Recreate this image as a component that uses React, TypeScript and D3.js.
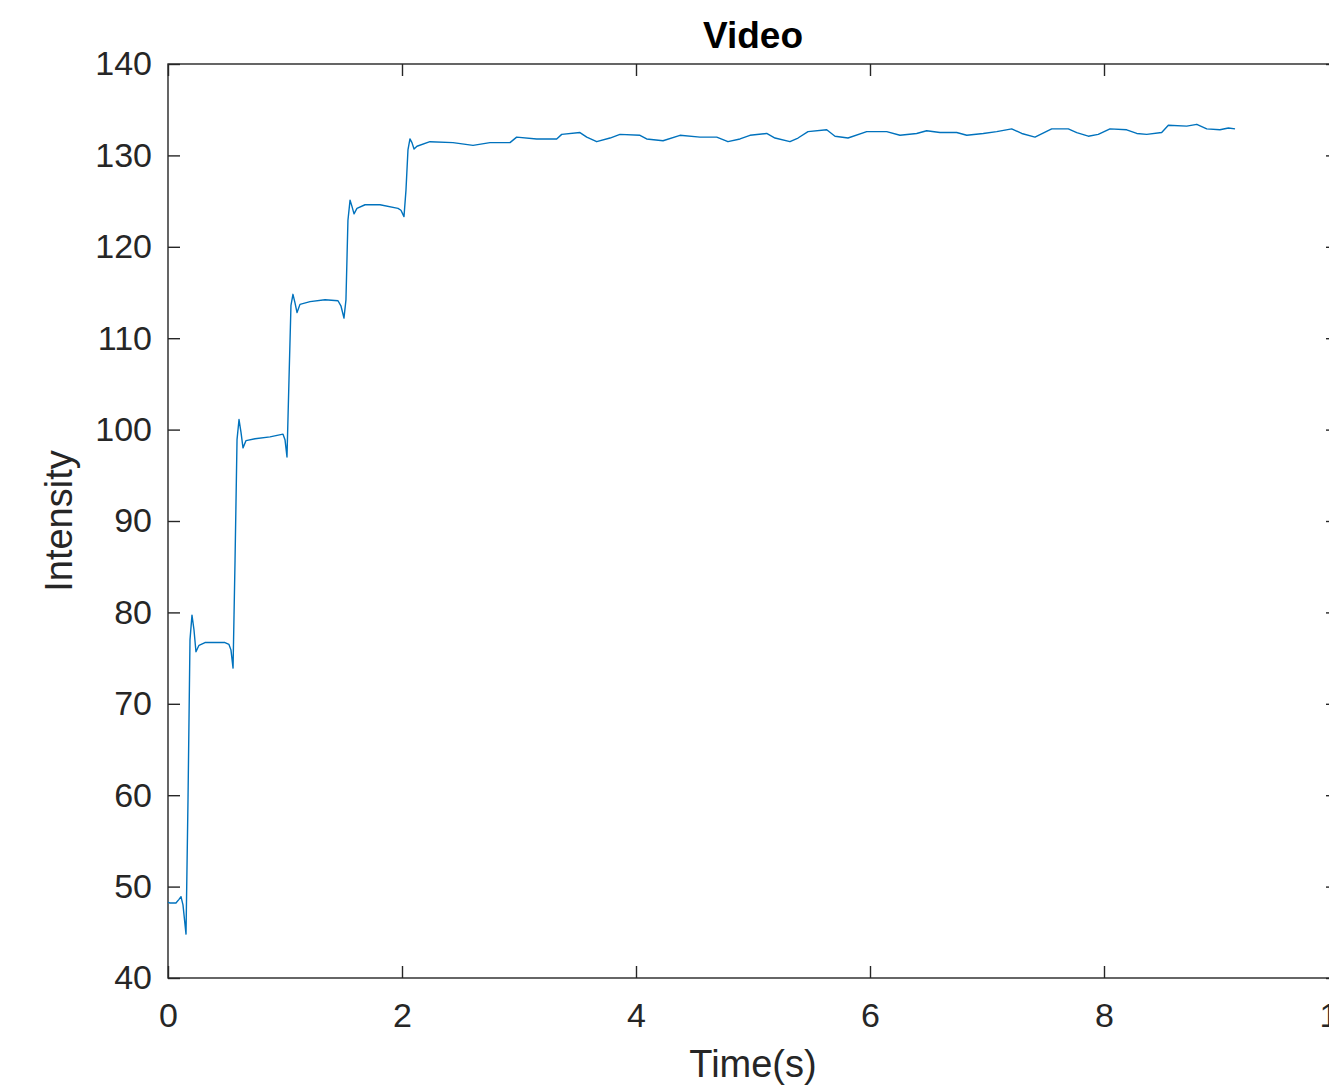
import * as d3 from 'd3';
import { useEffect, useRef } from 'react';

// time (s) and mean intensity
const times = [
  0, 0.017, 0.068, 0.094, 0.111, 0.128, 0.154, 0.171, 0.188, 0.205, 0.222, 0.239, 0.265, 0.316, 0.402,
  0.487, 0.521, 0.538, 0.556, 0.573, 0.59, 0.607, 0.624, 0.641, 0.667, 0.744, 0.872, 0.983, 1.0, 1.017,
  1.034, 1.051, 1.068, 1.085, 1.103, 1.128, 1.214, 1.342, 1.453, 1.479, 1.504, 1.521, 1.538, 1.556,
  1.573, 1.59, 1.615, 1.684, 1.812, 1.966, 1.991, 2.017, 2.034, 2.051, 2.068, 2.085, 2.103, 2.128,
  2.239, 2.436, 2.607, 2.752, 2.923, 2.98, 3.151, 3.322, 3.365, 3.521, 3.579, 3.664, 3.778, 3.863,
  4.034, 4.091, 4.231, 4.376, 4.547, 4.69, 4.786, 4.889, 4.974, 5.117, 5.188, 5.316, 5.385, 5.47,
  5.63, 5.701, 5.812, 5.972, 6.143, 6.256, 6.399, 6.484, 6.598, 6.741, 6.827, 6.968, 7.083, 7.211,
  7.297, 7.41, 7.553, 7.695, 7.767, 7.866, 7.951, 8.051, 8.194, 8.28, 8.365, 8.493, 8.55, 8.707,
  8.793, 8.878, 8.991, 9.063, 9.12,
];

const intensity = [
  48.3, 48.2, 48.2, 48.6, 48.9, 48.0, 44.8, 59.5, 77.0, 79.7, 78.1, 75.7, 76.4, 76.7, 76.7,
  76.7, 76.5, 75.9, 73.9, 85.7, 98.9, 101.1, 99.7, 98.0, 98.8, 99.0, 99.2, 99.5, 98.9, 97.0,
  105.4, 113.6, 114.8, 113.9, 112.8, 113.7, 114.0, 114.2, 114.1, 113.5, 112.2, 114.2, 122.9, 125.1,
  124.4, 123.6, 124.2, 124.6, 124.6, 124.2, 124.0, 123.3, 126.2, 130.6, 131.8, 131.4, 130.7, 131.0,
  131.5, 131.4, 131.1, 131.4, 131.4, 132.0, 131.8, 131.8, 132.3, 132.5, 132.0, 131.5, 131.9, 132.3,
  132.2, 131.8, 131.6, 132.2, 132.0, 132.0, 131.5, 131.8, 132.2, 132.4, 131.9, 131.5, 131.9, 132.6,
  132.8, 132.1, 131.9, 132.6, 132.6, 132.2, 132.4, 132.7, 132.5, 132.5, 132.2, 132.4, 132.6, 132.9,
  132.4, 132.0, 132.9, 132.9, 132.5, 132.1, 132.3, 132.9, 132.8, 132.4, 132.3, 132.5, 133.3, 133.2,
  133.4, 132.9, 132.8, 133.0, 132.9,
];

const xTicks = [0, 2, 4, 6, 8, 10];
const yTicks = [40, 50, 60, 70, 80, 90, 100, 110, 120, 130, 140];

const WIDTH = 1329;
const HEIGHT = 1088;
const FONT = '"Liberation Sans", Arial, Helvetica, sans-serif';
const AXIS_COLOR = '#262626';

export default function App() {
  const ref = useRef<SVGSVGElement | null>(null);

  useEffect(() => {
    const svg = d3.select(ref.current);
    svg.selectAll('*').remove();

    const left = 168;
    const right = 1338; // x = 10 lies just past the picture's right edge
    const top = 64;
    const bottom = 978;

    const x = d3.scaleLinear().domain([0, 10]).range([left, right]);
    const y = d3.scaleLinear().domain([40, 140]).range([bottom, top]);

    const series = times.map((t, i) => ({ t, v: intensity[i] }));

    // axis box
    svg.append('rect')
      .attr('x', left)
      .attr('y', top)
      .attr('width', right - left)
      .attr('height', bottom - top)
      .attr('fill', '#fff')
      .attr('stroke', AXIS_COLOR)
      .attr('stroke-width', 1.4);

    const tickLen = 12;

    const styleAxis = (g: d3.Selection<SVGGElement, unknown, null, undefined>) => {
      g.select('.domain').remove();
      g.selectAll('line').attr('stroke', AXIS_COLOR).attr('stroke-width', 1.4);
      g.selectAll('text')
        .attr('fill', AXIS_COLOR)
        .style('font-family', FONT)
        .style('font-size', '34px');
    };

    svg.append('g')
      .attr('transform', `translate(0,${bottom})`)
      .call(d3.axisBottom(x).tickValues(xTicks).tickSizeInner(-tickLen).tickSizeOuter(0).tickPadding(25))
      .call(styleAxis);

    svg.append('g')
      .attr('transform', `translate(${left},0)`)
      .call(d3.axisLeft(y).tickValues(yTicks).tickSizeInner(-tickLen).tickSizeOuter(0).tickPadding(16))
      .call(styleAxis);

    // mirrored ticks on top and right (box on)
    svg.append('g')
      .attr('transform', `translate(0,${top})`)
      .call(d3.axisTop(x).tickValues(xTicks).tickSizeInner(-tickLen).tickSizeOuter(0).tickFormat(() => ''))
      .call(styleAxis);

    svg.append('g')
      .attr('transform', `translate(${right},0)`)
      .call(d3.axisRight(y).tickValues(yTicks).tickSizeInner(-tickLen).tickSizeOuter(0).tickFormat(() => ''))
      .call(styleAxis);

    const line = d3.line<{ t: number; v: number }>()
      .x((d) => x(d.t))
      .y((d) => y(d.v));

    svg.append('path')
      .datum(series)
      .attr('d', line)
      .attr('fill', 'none')
      .attr('stroke', '#0072BD')
      .attr('stroke-width', 1.4)
      .attr('stroke-linejoin', 'round');

    svg.append('text')
      .attr('x', (left + right) / 2)
      .attr('y', 48)
      .attr('text-anchor', 'middle')
      .style('font-family', FONT)
      .style('font-size', '37px')
      .style('font-weight', 'bold')
      .attr('fill', '#000')
      .text('Video');

    svg.append('text')
      .attr('x', (left + right) / 2)
      .attr('y', 1077)
      .attr('text-anchor', 'middle')
      .style('font-family', FONT)
      .style('font-size', '38px')
      .attr('fill', AXIS_COLOR)
      .text('Time(s)');

    svg.append('text')
      .attr('transform', `translate(72,${(top + bottom) / 2}) rotate(-90)`)
      .attr('text-anchor', 'middle')
      .style('font-family', FONT)
      .style('font-size', '38px')
      .attr('fill', AXIS_COLOR)
      .text('Intensity');
  }, []);

  return (
    <svg
      ref={ref}
      width={WIDTH}
      height={HEIGHT}
      style={{ position: 'absolute', left: 0, top: 0, background: '#fff', overflow: 'hidden' }}
      role="img"
      aria-label="Video intensity over time"
    />
  );
}
